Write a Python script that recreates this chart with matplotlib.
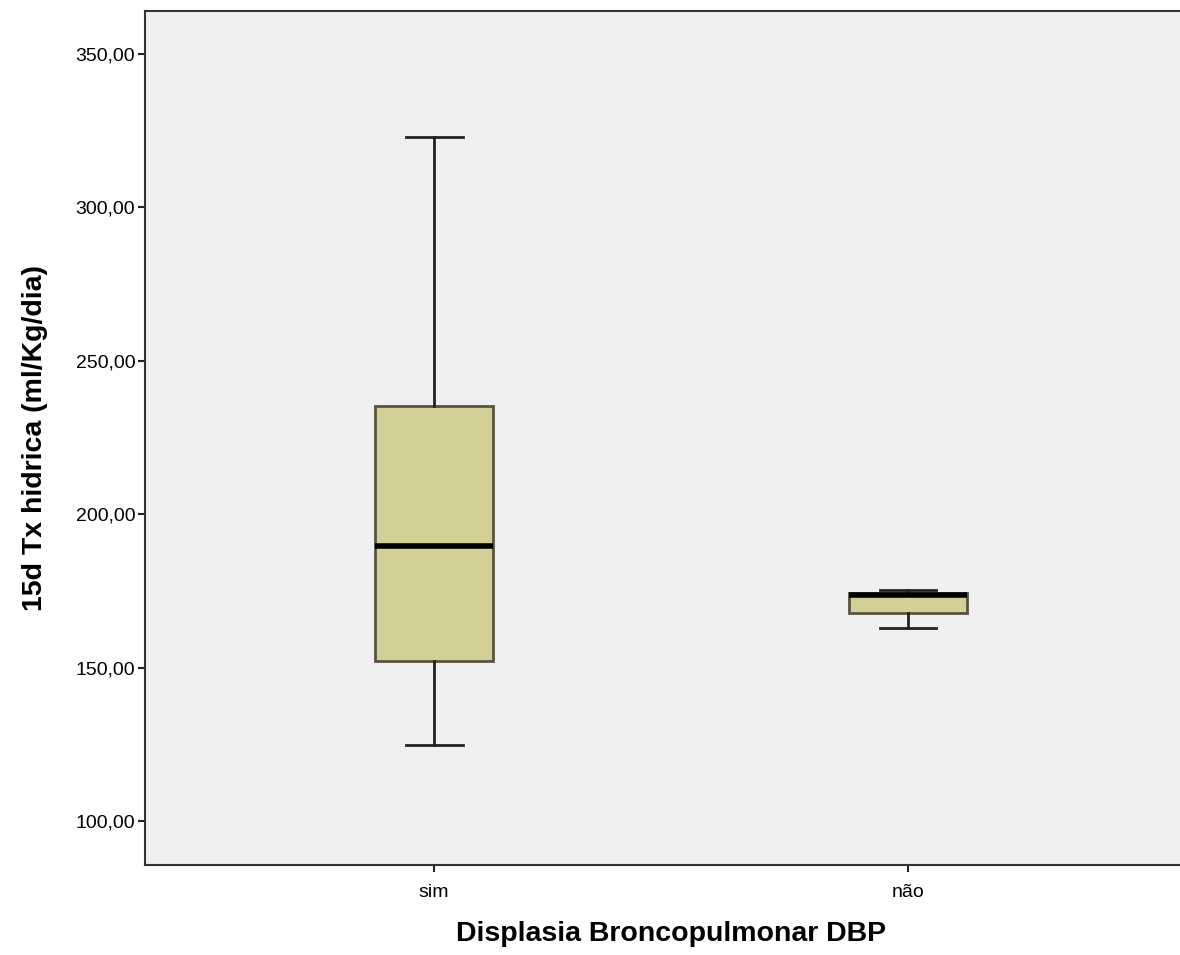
import matplotlib.pyplot as plt
from matplotlib.ticker import FuncFormatter

plt.rcParams['font.family'] = ['Liberation Sans', 'DejaVu Sans']

groups = ['sim', 'não']
whislo = [124.8, 162.9]
q1 = [152.2, 167.8]
med = [189.6, 173.7]
q3 = [235.3, 174.3]
whishi = [323.0, 175.3]
yticks = [100, 150, 200, 250, 300, 350]

stats = []
for i in range(len(groups)):
    stats.append(dict(label=groups[i], whislo=whislo[i], q1=q1[i], med=med[i],
                      q3=q3[i], whishi=whishi[i], fliers=[]))

fig = plt.figure(figsize=(11.8, 9.55), dpi=100)
ax = fig.add_axes([0.1229, 0.0942, 0.8915, 0.8943])
ax.set_facecolor('#f0f0f0')

ax.bxp(stats, positions=[0, 1], widths=0.25, patch_artist=True, showfliers=False,
       boxprops=dict(facecolor='#d3cf97', edgecolor='#55553f', linewidth=2),
       medianprops=dict(color='black', linewidth=4),
       whiskerprops=dict(color='#222222', linewidth=2),
       capprops=dict(color='#222222', linewidth=2),
       capwidths=0.12)

ax.set_xlim(-0.61, 1.61)
ax.set_ylim(85.7, 364)
ax.set_yticks(yticks)
ax.yaxis.set_major_formatter(FuncFormatter(lambda v, p: f'{v:.2f}'.replace('.', ',')))
ax.tick_params(axis='y', labelsize=14, length=5, width=1.5, color='#222222', pad=2)
ax.tick_params(axis='x', labelsize=14, length=5, width=1.5, color='#222222', pad=9)

for s in ['top', 'left', 'bottom']:
    ax.spines[s].set_linewidth(1.5)
    ax.spines[s].set_color('#333333')
ax.spines['right'].set_visible(False)

ax.set_ylabel('15d Tx hidrica (ml/Kg/dia)', fontsize=20.5, fontweight='bold', labelpad=20)
ax.set_xlabel('Displasia Broncopulmonar DBP', fontsize=20.5, fontweight='bold', labelpad=14)

fig.savefig('out.png', dpi=100)
